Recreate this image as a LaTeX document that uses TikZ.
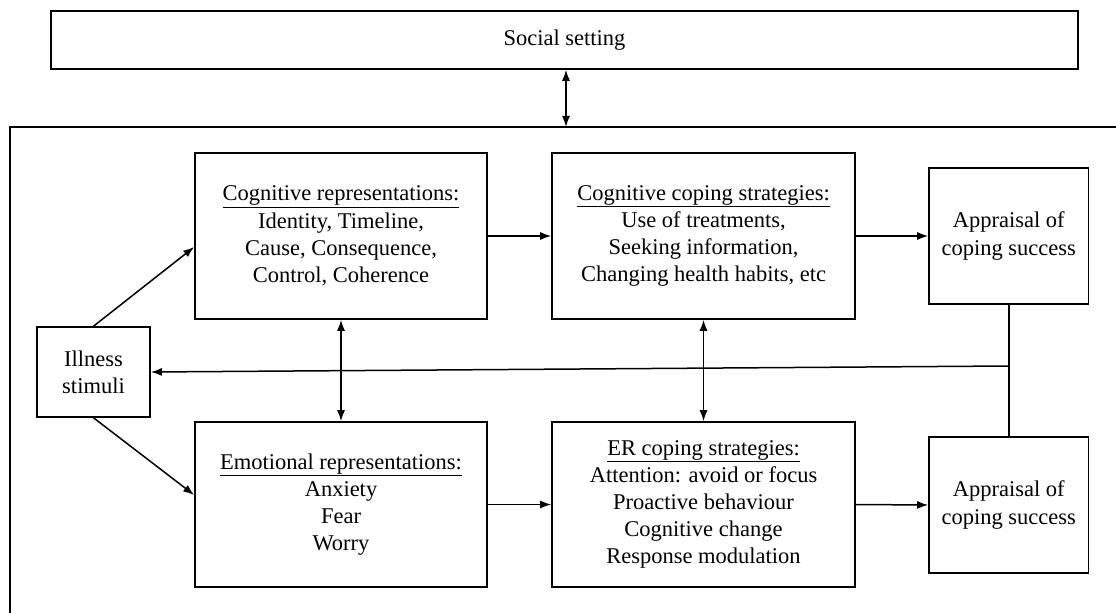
\documentclass[tikz,border=0pt]{standalone}
\usepackage{fontspec}
\setmainfont{Liberation Serif}
\usetikzlibrary{arrows.meta}
\begin{document}
\begin{tikzpicture}[x=1bp,y=-1bp,
  box/.style={draw, line width=1.6bp, align=center, inner sep=0pt, font=\fontsize{22.5bp}{27.2bp}\selectfont},
  arr/.style={line width=1.5bp, -{Latex[length=11bp,width=8bp]}},
  darr/.style={line width=1.5bp, {Latex[length=11bp,width=8bp]}-{Latex[length=11bp,width=8bp]}},
  ln/.style={line width=1.5bp}]
\useasboundingbox (0,0) rectangle (1116,613);
\fill[white] (0,0) rectangle (1116,613);
% outer frame (cropped at right and bottom)
\draw[ln, line width=1.6bp] (1116,127) -- (10,127) -- (10,613);
\coordinate (ftop) at (566,127);
\node[box, minimum width=1027bp, minimum height=58bp] (soc) at (564.5,40) {Social setting};
\node[box, minimum width=292bp, minimum height=166bp] (cr) at (341,236) {\underline{Cognitive representations:}\\Identity, Timeline,\\Cause, Consequence,\\Control, Coherence};
\node[box, minimum width=303bp, minimum height=166bp] (cc) at (703.5,236) {\underline{Cognitive coping strategies:}\\Use of treatments,\\Seeking information,\\Changing health habits, etc};
\node[box, minimum width=159.5bp, minimum height=136bp] (a1) at (1008.75,236) {Appraisal of\\coping success};
\node[box, minimum width=113bp, minimum height=90bp] (ill) at (93.5,372) {Illness\\stimuli};
\node[box, minimum width=292bp, minimum height=165bp] (er) at (341,504.5) {\underline{Emotional representations:}\\Anxiety\\Fear\\Worry};
\node[box, minimum width=303bp, minimum height=165bp] (ec) at (703.5,504.5) {\underline{ER coping strategies:}\\Attention: avoid or focus\\Proactive behaviour\\Cognitive change\\Response modulation};
\node[box, minimum width=159.5bp, minimum height=136bp] (a2) at (1008.75,505) {Appraisal of\\coping success};
\coordinate (j) at (1008.75,366);
% connectors
\draw[darr] (soc.south -| ftop) -- (ftop);
\draw[arr] (ill.north) -- (cr.west |- 0,247);
\draw[arr] (ill.south) -- (er.west |- 0,495);
\draw[arr] (cr.east) -- (cc.west);
\draw[arr] (cc.east) -- (a1.west);
\draw[arr] (er.east) -- (ec.west);
\draw[arr] (ec.east) -- (a2.west);
\draw[darr] (cr.south) -- (er.north);
\draw[darr] (cc.south) -- (ec.north);
\draw[ln] (a1.south) -- (a2.north);
\draw[arr] (j) -- (ill.east);
\end{tikzpicture}
\end{document}
